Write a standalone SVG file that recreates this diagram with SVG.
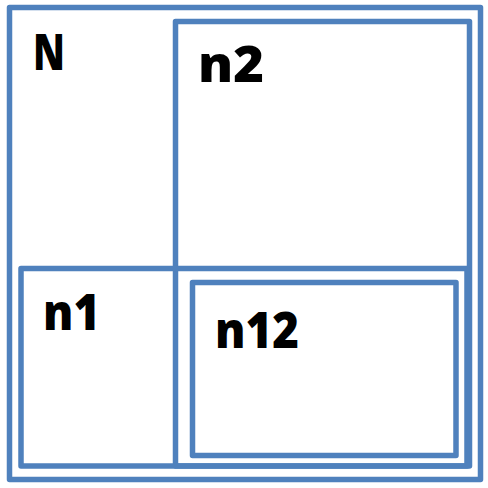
<svg xmlns="http://www.w3.org/2000/svg" width="488" height="488" viewBox="0 0 488 488">
<style>
.box{fill:none;stroke:#4F81BD;stroke-width:5.5;stroke-linejoin:round}
.lbl{font-family:"Open Sans","Liberation Sans",sans-serif;font-weight:800;font-size:49px;fill:#000}
</style>
<rect width="488" height="488" fill="#fff"/>
<g id="N">
<rect class="box" x="9.5" y="7.5" width="471" height="472"/>
<text class="lbl" x="33" y="70" textLength="32" lengthAdjust="spacingAndGlyphs">N</text>
</g>
<g id="n2">
<rect class="box" x="175.5" y="21.5" width="294" height="444.5"/>
<text class="lbl" x="198" y="82" textLength="66" lengthAdjust="spacingAndGlyphs">n2</text>
</g>
<g id="n1">
<rect class="box" x="21" y="268.5" width="446" height="197.5"/>
<text class="lbl" x="43" y="330" textLength="57" lengthAdjust="spacingAndGlyphs">n1</text>
</g>
<g id="n12">
<rect class="box" x="192.5" y="282.5" width="263.5" height="173"/>
<text class="lbl" x="215" y="348" textLength="84" lengthAdjust="spacingAndGlyphs">n12</text>
</g>
<g id="connectors"/>
</svg>
